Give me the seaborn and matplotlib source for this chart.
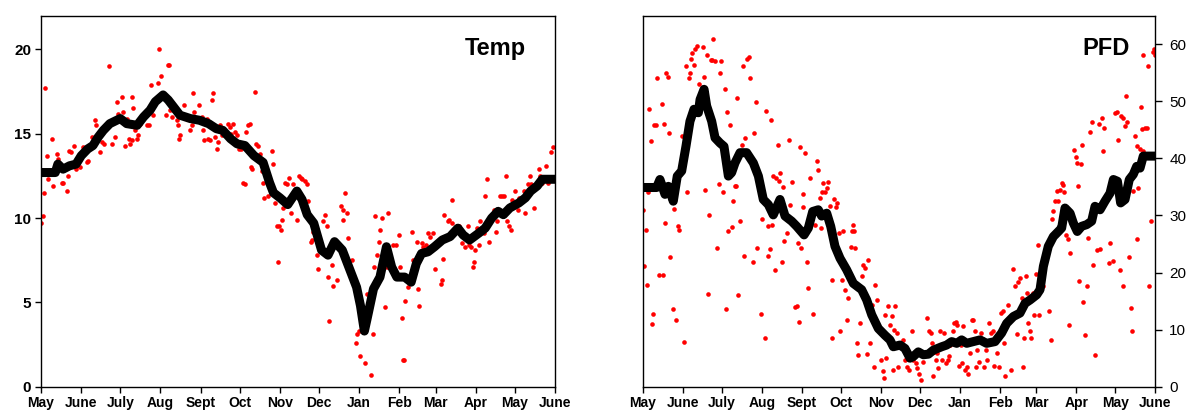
import matplotlib
matplotlib.use("Agg")
import matplotlib.pyplot as plt
import numpy as np
import pandas as pd
import seaborn as sns

# Axis labels
month_labels = ["May", "June", "July", "Aug", "Sept", "Oct", "Nov", "Dec",
                "Jan", "Feb", "Mar", "Apr", "May", "June"]
temp_ticks = [0, 5, 10, 15, 20]
pfd_ticks = [0, 10, 20, 30, 40, 50, 60]

# ---- Temperature: running mean (days since 1 May) ----
temp_line_day = [0, 11, 13, 17, 22, 27, 31, 36, 40, 44,
                 48, 53, 61, 66, 74, 79, 84, 88, 94, 98,
                 102, 107, 115, 122, 129, 135, 140, 146, 151, 157,
                 164, 171, 176, 179, 184, 190, 197, 201, 205, 210,
                 216, 221, 226, 232, 238, 243, 246, 249, 251, 256,
                 261, 266, 270, 274, 280, 285, 289, 293, 298, 303,
                 309, 315, 321, 325, 330, 337, 342, 347, 352, 356,
                 361, 368, 373, 377, 382, 386, 396]
temp_line_val = [12.7, 12.7, 13.2, 12.9, 13.1, 13.2, 13.7, 14.1, 14.3, 14.8,
                 15.2, 15.6, 15.9, 15.6, 15.5, 16.0, 16.4, 16.9, 17.3, 17.0,
                 16.6, 16.1, 15.9, 15.8, 15.6, 15.3, 15.2, 14.7, 14.4, 14.3,
                 13.7, 13.3, 12.1, 11.5, 11.2, 10.8, 11.6, 11.1, 10.2, 9.7,
                 8.1, 7.8, 8.6, 8.1, 6.9, 5.9, 4.8, 3.3, 4.0, 5.8,
                 6.5, 8.3, 7.1, 6.5, 6.5, 6.2, 7.3, 7.9, 8.0, 8.3,
                 8.7, 8.9, 9.4, 9.0, 8.7, 9.1, 9.4, 10.0, 10.4, 10.2,
                 10.6, 10.9, 11.2, 11.6, 11.9, 12.3, 12.3]

# ---- Temperature: daily observations ----
temp_obs_day = [0, 1.3, 2.6, 3.3, 4.4, 5.1, 8.2, 9.5, 12.1, 13.3,
                15.9, 17.2, 19.8, 21, 21.8, 22.8, 25.4, 26.7, 30, 32.6,
                35.2, 36.4, 39.5, 41.6, 42.4, 45.4, 46.7, 48.5, 50.1, 52.4,
                54.4, 57, 58.3, 59.5, 62.4, 63.4, 64.7, 66, 68, 68.5,
                69.8, 70.3, 71.1, 72.4, 73.7, 74.4, 76.2, 81.4, 83.2, 84.4,
                86.5, 90.1, 91.1, 92.4, 96.3, 97.5, 98.6, 99.3, 100.6, 101.9,
                104.5, 105.7, 106.3, 107, 110.1, 112.2, 114.7, 116, 116.8, 118.1,
                121.7, 123.7, 125, 125.8, 127.6, 128.9, 130.1, 131.4, 131.9, 132.7,
                134, 135.3, 136.6, 137.8, 139.1, 144.3, 145.5, 146, 148.1, 149.4,
                150.7, 152.5, 153.7, 155.8, 157.1, 157.9, 159.7, 160.9, 161.4, 162.5,
                164.8, 165.6, 167.4, 168.6, 169.9, 170.7, 171.7, 175.1, 177.6, 178.9,
                180.2, 181.5, 182.2, 183.5, 184.6, 185.6, 186.6, 187.9, 189.2, 191.2,
                192.3, 194.3, 196.4, 197.4, 198.7, 200, 201.2, 203.3, 204.6, 205.9,
                207.9, 208.9, 209.7, 212.3, 213.1, 217.4, 218.7, 219.9, 221.3, 222,
                223.8, 225.1, 228.2, 231, 232.3, 232.8, 234.3, 235.4, 236.7, 239.2,
                242.6, 243.6, 244.6, 245.6, 249.6, 251.3, 253.9, 255.4, 256.4, 257.2,
                259, 260.5, 261, 262.3, 265.2, 266.2, 267, 271.4, 273.5, 275.3,
                276.4, 277.7, 279, 279.5, 280.3, 282.8, 285.4, 286.7, 289.3, 290.5,
                291.3, 293.1, 294.4, 296.5, 298.3, 299.6, 302, 303.4, 307.8, 308.6,
                309.6, 310.4, 313, 314.3, 316.3, 316.8, 321.5, 324.1, 326.7, 328.6,
                329.8, 331.4, 332.4, 333.2, 334, 335.8, 337.1, 338.4, 340.9, 342.2,
                343.5, 344.8, 348.7, 350, 351.3, 353.8, 355.1, 356.4, 357.7, 359,
                360.3, 361.6, 362.9, 365.3, 367.3, 367.8, 371.7, 373, 375, 376.8,
                377.6, 379.4, 382, 383.2, 384.5, 385.8, 389.2, 390.4, 393, 394.3]
temp_obs_val = [9.7, 10.1, 11.5, 17.7, 13.7, 12.3, 14.7, 11.9, 13.8, 13.5,
                12.1, 12.1, 11.6, 12.5, 14.0, 13.9, 14.3, 12.9, 13.0, 14.2,
                13.3, 13.4, 14.8, 15.8, 15.5, 13.9, 14.5, 14.4, 15.5, 19.0,
                14.4, 14.8, 16.9, 16.2, 17.2, 16.3, 14.3, 15.9, 14.7, 14.4,
                14.6, 17.2, 16.5, 15.2, 14.7, 14.9, 15.6, 15.5, 15.5, 17.9,
                16.1, 18.0, 20.0, 18.4, 16.1, 19.1, 19.1, 16.4, 16.0, 16.4,
                15.8, 15.5, 14.7, 14.9, 16.7, 16.0, 15.2, 15.5, 17.4, 16.3,
                16.7, 16.0, 15.2, 14.6, 15.9, 14.7, 14.6, 15.5, 17.0, 17.4,
                14.8, 14.1, 14.5, 15.5, 14.9, 15.6, 15.4, 15.0, 15.6, 15.1,
                14.9, 14.1, 14.1, 12.1, 12.0, 15.1, 15.5, 15.6, 13.0, 12.9,
                17.5, 14.4, 14.3, 13.8, 12.8, 12.1, 11.2, 11.3, 14.0, 13.2,
                10.9, 9.5, 7.4, 9.5, 9.3, 9.9, 10.6, 12.1, 12.0, 12.4,
                10.3, 12.0, 11.5, 9.9, 12.5, 12.4, 12.3, 12.2, 12.0, 11.0,
                8.6, 8.7, 9.2, 7.8, 7.0, 9.8, 10.2, 9.5, 6.5, 3.9,
                7.2, 6.0, 6.3, 10.7, 9.9, 10.5, 11.5, 10.3, 8.8, 7.5,
                2.6, 3.1, 3.3, 1.8, 1.4, 5.5, 0.7, 3.1, 7.1, 10.1,
                7.8, 8.6, 9.3, 10.0, 4.7, 7.1, 10.3, 8.4, 8.4, 9.0,
                7.1, 4.1, 1.6, 1.6, 5.1, 5.9, 9.2, 7.5, 8.6, 5.8,
                4.8, 8.5, 8.3, 8.4, 9.1, 8.9, 9.1, 7.0, 6.1, 6.3,
                7.6, 10.2, 9.8, 9.9, 11.1, 9.7, 9.5, 8.5, 8.3, 9.5,
                8.4, 8.3, 7.1, 7.4, 8.1, 9.4, 8.4, 9.8, 9.1, 11.3,
                12.3, 8.6, 10.5, 9.2, 9.8, 11.3, 11.3, 11.3, 12.5, 9.8,
                9.5, 9.3, 11.1, 11.6, 10.5, 11.2, 11.6, 10.3, 12.0, 12.5,
                12.0, 10.6, 12.0, 12.9, 12.5, 12.1, 13.1, 12.1, 13.9, 14.2]

# ---- PFD: running mean ----
pfd_line_day = [0, 10.5, 13.1, 17, 19.6, 23.4, 26.5, 29.9, 33.2, 36.3,
                39.4, 42.8, 44.1, 47.2, 49.2, 53.1, 55.7, 59.5, 62.6, 66,
                68.5, 71.1, 75, 80.1, 85.3, 89.2, 93, 96.9, 100.7, 105.9,
                109.8, 114.9, 118.8, 124.5, 127.8, 131.2, 135.5, 138.1, 142, 145.1,
                148.4, 152.3, 157.4, 162.6, 169, 172.9, 176.8, 181.9, 187.1, 190.9,
                193.5, 198.7, 202.5, 206.4, 209, 212.8, 216.7, 220.6, 224.4, 230.9,
                234.7, 238.6, 242.5, 246.3, 250.2, 255.3, 260.5, 265.6, 272.1, 277.2,
                281.1, 286.3, 291.4, 295.3, 299.2, 304.3, 306.9, 309.5, 313.3, 317.2,
                321.1, 323.6, 326.2, 330.1, 332.6, 335.7, 339.1, 343, 346.8, 349.4,
                353.3, 357.1, 361, 363.6, 366.7, 369.2, 372.6, 375.9, 379, 381.6,
                384.2, 386.7, 396]
pfd_line_val = [34.9, 34.9, 36.3, 33.7, 35.1, 32.5, 36.9, 37.8, 42.1, 46.5,
                48.6, 48.0, 50.3, 52.1, 49.2, 46.5, 43.6, 42.7, 42.1, 36.9,
                37.5, 39.2, 41.0, 41.0, 39.2, 36.9, 32.8, 31.9, 30.1, 32.8,
                29.9, 29.0, 28.1, 26.6, 27.8, 30.7, 31.0, 29.9, 30.4, 28.1,
                24.6, 22.5, 20.5, 18.1, 17.0, 15.2, 12.6, 10.2, 9.0, 8.2,
                7.0, 7.3, 6.7, 5.0, 5.3, 6.1, 5.6, 5.7, 6.4, 7.0,
                7.3, 7.9, 7.6, 8.2, 7.6, 7.9, 8.2, 7.6, 7.9, 9.4,
                11.1, 12.3, 12.9, 14.6, 15.2, 16.1, 17.0, 21.1, 24.6, 26.3,
                27.2, 27.8, 31.3, 30.4, 28.7, 27.2, 28.1, 28.4, 29.0, 31.6,
                31.0, 32.5, 33.9, 36.3, 36.0, 32.2, 32.8, 36.3, 37.2, 38.6,
                38.3, 40.4, 40.4]

# ---- PFD: daily observations ----
pfd_obs_day = [0, 1, 2.1, 3.3, 4.1, 4.9, 5.9, 6.9, 8, 8.8,
               10, 11.1, 12.6, 14.4, 15.2, 16.2, 17, 17.8, 19.3, 20.1,
               20.9, 22.9, 24, 25.3, 26.8, 28.1, 29.9, 32, 33.2, 34.3,
               35.3, 36.3, 37.1, 38.1, 39.2, 40.2, 41.5, 43, 46.1, 47.2,
               48.2, 49.2, 50, 51, 52.3, 53.3, 54.4, 55.7, 56.9, 58.5,
               59.5, 60.6, 62.1, 63.1, 64.2, 65.2, 66, 67.3, 68.5, 69.8,
               71.1, 71.9, 72.9, 73.7, 75, 76.3, 77.3, 78.3, 79.1, 80.1,
               81.7, 82.7, 85.3, 86.1, 87.3, 88.4, 91.2, 92.2, 94.3, 95.1,
               96.4, 96.9, 98.2, 98.9, 99.5, 100.7, 102, 102.8, 104.1, 105.1,
               105.9, 107.2, 108.5, 109.2, 111.1, 113.1, 113.6, 115.2, 117.5, 118.8,
               119.8, 120.3, 121.4, 122.1, 123.4, 123.9, 125.2, 126.5, 127.3, 129.1,
               131.2, 133, 134.8, 135.5, 136.8, 137.6, 138.6, 139.4, 140.7, 142,
               143.3, 144.6, 146.4, 146.4, 147.9, 149.2, 150.2, 151.5, 152.3, 153.6,
               154.9, 156.4, 157.4, 158.7, 160.5, 161.3, 162.1, 163.1, 164.1, 165.2,
               166.5, 167.7, 169.3, 170.3, 171.6, 172.9, 174.2, 175.5, 176.8, 178.6,
               179.6, 180.6, 182, 184, 185.3, 186.3, 187.1, 188, 189.7, 190.9,
               192.2, 193, 194, 194.8, 196.1, 197.4, 200.7, 202.5, 203.8, 205.9,
               208, 209, 211, 212.1, 213.6, 214.6, 216.7, 219.3, 221.3, 222.4,
               223.1, 224.4, 225.2, 226.5, 227.5, 228.3, 229.6, 231.4, 232.9, 234,
               235.5, 236.8, 237.3, 238.6, 239.4, 240.4, 242, 243, 244.6, 245.9,
               246.4, 247.7, 249.2, 250.2, 251.5, 252.8, 254.1, 255.3, 256.6, 257.4,
               258.4, 260, 261, 262.6, 263.6, 265.1, 266.2, 267.7, 268.8, 270.3,
               271.3, 273.4, 275.4, 276.5, 278, 279, 279.8, 282.4, 284.2, 286.3,
               287.6, 288.9, 290.1, 291.4, 292.7, 294, 294.5, 296, 297, 297.8,
               299.1, 299.6, 301.2, 302.2, 303.5, 305.6, 306.4, 309, 312.1, 314.1,
               315.2, 316, 317.2, 318.5, 319.8, 321.1, 322.4, 323.6, 324.9, 325.7,
               326.7, 328.3, 329.4, 330.1, 333.4, 334.4, 335.2, 336.5, 337.3, 338.4,
               339.1, 340.4, 341.7, 343, 344.3, 345.6, 346.8, 348.1, 349.4, 350.7,
               352.7, 353.3, 354.6, 355.4, 356.4, 361, 360.5, 363, 364.9, 366.7,
               367.5, 368.7, 369.2, 370.8, 371.3, 372.6, 373.3, 374.4, 375.9, 376.9,
               377.7, 379, 380.2, 381.6, 382.1, 382.9, 384.2, 384.9, 385.5, 386.2,
               386.7, 388, 389.3, 390.6, 391.3, 392.3, 393.9, 394.9, 395.9]
pfd_obs_val = [30.9, 21.1, 27.5, 17.8, 34.1, 48.6, 43.1, 11.0, 12.8, 45.8,
               45.8, 54.1, 19.5, 49.6, 19.5, 46.1, 28.7, 55.0, 54.3, 44.5,
               22.7, 13.6, 31.1, 11.6, 28.1, 27.5, 43.9, 7.9, 56.1, 34.1,
               54.1, 54.9, 57.5, 58.4, 56.3, 59.1, 59.7, 53.0, 59.6, 54.3,
               34.4, 58.2, 16.3, 30.1, 57.2, 57.2, 61.0, 57.1, 24.3, 35.6,
               54.9, 57.1, 34.1, 52.1, 13.6, 48.1, 27.2, 45.8, 28.0, 32.5,
               35.2, 35.1, 50.6, 16.1, 29.0, 42.3, 56.2, 22.9, 43.6, 57.4,
               57.8, 54.0, 21.9, 44.5, 49.8, 24.3, 12.7, 29.3, 8.5, 48.3,
               28.2, 22.9, 24.1, 46.7, 28.4, 36.9, 20.4, 36.6, 42.3, 36.0,
               37.5, 21.8, 35.0, 25.6, 27.0, 43.3, 31.9, 35.8, 14.0, 14.2,
               25.2, 11.4, 42.0, 24.3, 33.7, 31.5, 41.0, 21.9, 17.3, 36.6,
               12.8, 28.4, 39.5, 38.0, 33.1, 27.8, 34.1, 35.7, 34.1, 34.8,
               35.8, 31.7, 18.7, 8.6, 32.8, 31.5, 32.1, 27.0, 9.8, 18.7,
               27.2, 17.0, 11.6, 15.5, 24.5, 27.2, 28.4, 27.2, 24.3, 7.6,
               5.6, 11.2, 19.4, 21.4, 20.8, 5.7, 22.2, 7.7, 14.3, 3.5,
               17.9, 15.2, 10.8, 4.7, 2.8, 1.5, 12.6, 5.0, 14.2, 10.8,
               12.3, 3.0, 9.9, 14.2, 9.4, 3.5, 8.2, 4.7, 3.5, 2.9,
               9.7, 4.7, 4.1, 3.2, 2.3, 1.2, 4.4, 12.0, 9.7, 9.4,
               7.6, 1.8, 6.0, 4.7, 5.9, 3.2, 9.7, 4.6, 9.4, 4.2,
               4.7, 5.3, 7.3, 8.2, 9.7, 11.1, 11.4, 10.8, 3.6, 7.3,
               4.1, 10.7, 3.0, 3.5, 2.3, 5.9, 11.7, 11.6, 9.7, 3.4,
               6.4, 4.4, 9.4, 8.3, 3.4, 6.4, 4.7, 11.1, 9.4, 9.7,
               3.6, 5.9, 3.5, 13.0, 13.3, 7.7, 1.9, 14.3, 2.9, 20.6,
               17.6, 9.2, 18.3, 19.0, 15.5, 3.5, 8.5, 19.4, 16.4, 11.2,
               9.7, 8.5, 16.5, 12.6, 19.8, 24.9, 12.6, 17.6, 23.7, 13.2,
               8.2, 29.3, 30.7, 32.5, 34.2, 32.5, 34.5, 35.7, 35.4, 34.1,
               26.6, 25.8, 10.8, 23.5, 41.4, 40.3, 39.2, 35.1, 18.6, 39.1,
               42.4, 14.9, 9.1, 17.7, 26.0, 44.6, 46.4, 21.4, 5.6, 24.0,
               46.1, 24.1, 47.1, 41.3, 45.4, 25.2, 21.7, 22.1, 48.0, 48.1,
               43.3, 20.5, 47.4, 47.1, 17.6, 45.7, 50.9, 46.4, 22.8, 13.8,
               9.7, 34.2, 44.0, 25.8, 42.1, 34.8, 41.6, 49.0, 45.2, 58.1,
               41.3, 45.4, 45.4, 56.2, 17.6, 29.0, 58.6, 59.1, 58.2]

sns.set_theme(style="ticks")
plt.rcParams["font.family"] = ["Liberation Sans", "DejaVu Sans"]

fig = plt.figure(figsize=(11.87, 4.15), dpi=100)
W, H = 1187.0, 415.0
ax_t = fig.add_axes([41 / W, 28.3 / H, 514.3 / W, 371 / H])
ax_p = fig.add_axes([643 / W, 28.3 / H, 512.3 / W, 371 / H])

month_starts = pd.date_range("2010-05-01", "2011-06-01", freq="MS")
tick_days = np.asarray((month_starts - month_starts[0]).days)
span = tick_days[-1]


def draw_panel(ax, obs_day, obs_val, line_day, line_val, ymax, yticks,
               title, title_x):
    sns.scatterplot(x=obs_day, y=obs_val, ax=ax, color="#ff0000", s=11,
                    linewidth=0, zorder=2)
    sns.lineplot(x=line_day, y=line_val, ax=ax, color="black", linewidth=6.5,
                 zorder=3, solid_joinstyle="round", solid_capstyle="butt")
    ax.set_xlim(0, span)
    ax.set_ylim(0, ymax)
    ax.set_xticks(tick_days)
    ax.set_xticklabels(month_labels)
    ax.set_yticks(yticks)
    ax.set_xlabel("")
    ax.set_ylabel("")
    for sp in ax.spines.values():
        sp.set_visible(True)
        sp.set_color("black")
        sp.set_linewidth(1.0)
    ax.tick_params(axis="x", direction="out", length=4, width=1, colors="black",
                   labelsize=10, pad=3)
    ax.tick_params(axis="y", direction="out", length=4, width=1, colors="black",
                   labelsize=11, pad=3)
    for lab in ax.get_xticklabels() + ax.get_yticklabels():
        lab.set_fontweight("bold")
    ax.text(title_x, 0.894, title, transform=ax.transAxes, ha="right",
            va="baseline", fontsize=17, fontweight="bold", color="black")


draw_panel(ax_t, temp_obs_day, temp_obs_val, temp_line_day, temp_line_val,
           22, temp_ticks, "Temp", 0.942)
draw_panel(ax_p, pfd_obs_day, pfd_obs_val, pfd_line_day, pfd_line_val,
           65, pfd_ticks, "PFD", 0.95)
ax_p.yaxis.tick_right()
ax_p.tick_params(axis="y", length=5, pad=5)

fig.savefig("out.png", dpi=100, facecolor="white")
